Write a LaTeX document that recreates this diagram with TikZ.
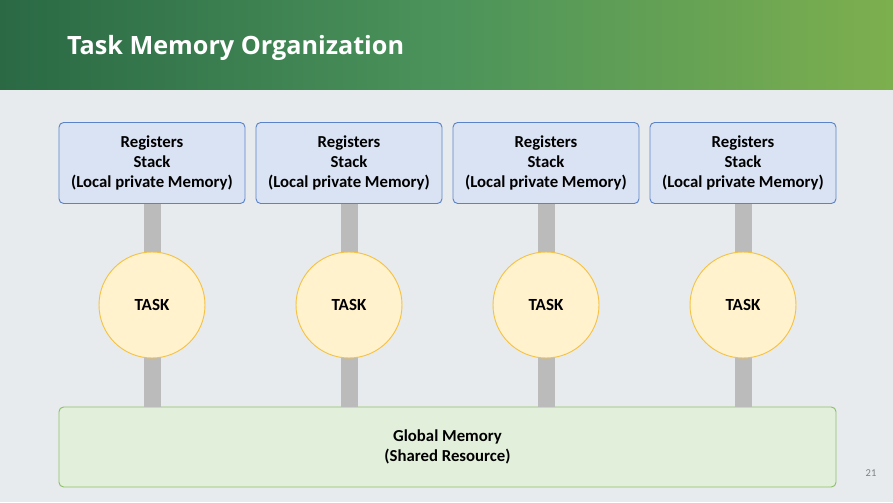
\documentclass[tikz,border=0pt]{standalone}
\usepackage{fontspec}
\setmainfont{Carlito}
\newfontfamily\titlefont{Open Sans}
\usepackage{tikz}
\usetikzlibrary{calc}
\definecolor{hdrdark}{HTML}{2A6944}
\definecolor{hdrmid}{HTML}{3F8C5E}
\definecolor{hdrlight}{HTML}{7DAF4E}
\definecolor{slidebg}{HTML}{E8EBEE}
\definecolor{memfill}{HTML}{DAE3F3}
\definecolor{memdraw}{HTML}{5B83C9}
\definecolor{taskfill}{HTML}{FFF2CC}
\definecolor{taskdraw}{HTML}{F5C243}
\definecolor{globfill}{HTML}{E2EFDA}
\definecolor{globdraw}{HTML}{8DBF6B}
\definecolor{barcol}{HTML}{BBBBBB}
\tikzset{
  membox/.style={draw=memdraw, fill=memfill, rounded corners=4pt, line width=0.8pt,
    minimum width=5.58cm, minimum height=2.43cm, align=center,
    font=\bfseries\fontsize{14.3}{17.2}\selectfont},
  taskcirc/.style={circle, draw=taskdraw, fill=taskfill, line width=0.8pt,
    minimum size=3.18cm, font=\bfseries\fontsize{14.5}{16}\selectfont},
  globbox/.style={draw=globdraw, fill=globfill, rounded corners=4pt, line width=0.8pt,
    minimum width=23.31cm, minimum height=2.4cm, align=center,
    font=\bfseries\fontsize{14.3}{17.2}\selectfont},
  linkbar/.style={draw=barcol, line width=0.51cm}
}
\begin{document}
\begin{tikzpicture}[x=0.03cm,y=0.03cm]
\useasboundingbox (0,0) rectangle (893,502);
% slide background and header
\fill[slidebg] (0,0) rectangle (893,412);
\shade[left color=hdrdark, right color=hdrlight, middle color=hdrmid!80!hdrlight] (0,412) rectangle (893,502);
\node[anchor=west, text=white, font=\titlefont\bfseries\fontsize{21.5}{25}\selectfont] (title) at (63,454) {Task Memory Organization};
\node[text=gray, font=\fontsize{9}{10}\selectfont] (pagenum) at (871,29) {21};
% shared memory
\node[globbox] (glob) at (447.5,55) {Global Memory\\(Shared Resource)};
% one column per task
\foreach \i/\x in {1/152,2/349,3/546,4/743} {
  \node[membox] (mem\i) at (\x,339) {Registers\\Stack\\(Local private Memory)};
  \draw[linkbar] (mem\i.south) -- (mem\i.south |- glob.north);
  \node[taskcirc] (task\i) at (\x,197) {TASK};
}
\end{tikzpicture}
\end{document}
